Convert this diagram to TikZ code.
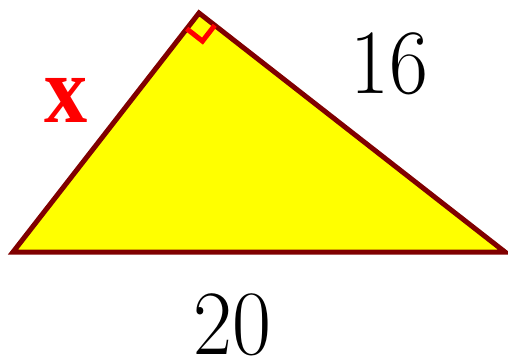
\documentclass[tikz,border=0pt]{standalone}
\usepackage{fontspec}
\newfontfamily\xfont{Liberation Serif}
\usetikzlibrary{calc}
\definecolor{edge}{RGB}{128,0,0}
\definecolor{tri}{RGB}{255,255,0}
\definecolor{mark}{RGB}{255,0,0}
\begin{document}
\begin{tikzpicture}[x=1pt,y=-1pt,
  side/.style={draw=edge,line width=5pt,fill=tri},
  rmark/.style={draw=mark,line width=5pt},
  lbl/.style={inner sep=0pt,font=\fontsize{92}{100}\selectfont},
  xlbl/.style={inner sep=0pt,text=mark,font=\fontsize{96}{100}\xfont\bfseries}]
\useasboundingbox (0,0) rectangle (508,360);
\coordinate (A) at (13,252);
\coordinate (B) at (199,13);
\coordinate (C) at (505,252);
\draw[side] (A) -- (B) -- (C) -- cycle;
\coordinate (P) at ($(B)!20pt!(A)$);
\coordinate (Q) at ($(B)!20pt!(C)$);
\coordinate (R) at ($(P)+(Q)-(B)$);
\draw[rmark] (P) -- (R) -- (Q);
\node[xlbl,xscale=0.9] (lx) at (66,100) {x};
\node[lbl,xscale=0.92] (l16) at (389,64) {16};
\node[lbl,xscale=0.92] (l20) at (232,325) {20};
\end{tikzpicture}
\end{document}
